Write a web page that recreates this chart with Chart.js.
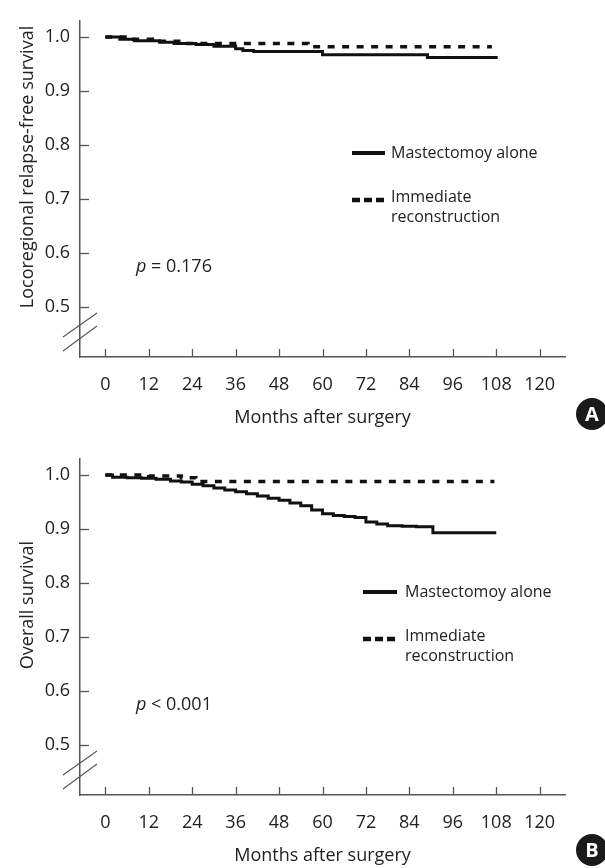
<!DOCTYPE html>
<html><head><meta charset="utf-8">
<script src="https://cdn.jsdelivr.net/npm/chart.js@4.4.1/dist/chart.umd.min.js"></script>
<style>
html,body{margin:0;padding:0;background:#fff;overflow:hidden;width:605px;height:868px;}
canvas{position:absolute;left:0;}
#c1{top:0}
#c2{top:438px}
</style></head><body>
<canvas id="c1" width="605" height="434"></canvas>
<canvas id="c2" width="605" height="434"></canvas>
<script>
// ---- data ----
const X_TICKS = [0, 12, 24, 36, 48, 60, 72, 84, 96, 108, 120];
const Y_TICKS = [0.5, 0.6, 0.7, 0.8, 0.9, 1.0];
const Y_TICK_LABELS = ['0.5', '0.6', '0.7', '0.8', '0.9', '1.0'];
const X_TITLE = 'Months after surgery';
const SERIES_NAMES = ['Mastectomoy alone', ['Immediate', 'reconstruction']];

// Panel A: locoregional relapse-free survival
const LRFS_MAST_T = [0, 4, 8, 15, 19, 25, 30, 36, 38, 41, 60, 89, 108.4];
const LRFS_MAST_S = [1.0, 0.996, 0.993, 0.990, 0.988, 0.986, 0.983, 0.978, 0.975, 0.973, 0.967, 0.962, 0.962];
const LRFS_IR_T = [0, 6, 13, 22, 56, 106.8];
const LRFS_IR_S = [1.0, 0.996, 0.992, 0.988, 0.982, 0.982];

// Panel B: overall survival
const OS_MAST_T = [0, 2, 6, 10, 14, 18, 21, 24, 27, 30, 33, 36, 39, 42, 45, 48, 51, 54, 57, 60, 63, 66, 69, 72, 75, 78, 82, 86, 90.5, 108];
const OS_MAST_S = [1.0, 0.996, 0.995, 0.994, 0.992, 0.989, 0.987, 0.983, 0.980, 0.976, 0.972, 0.969, 0.965, 0.961, 0.957, 0.953, 0.948, 0.943, 0.935, 0.928, 0.925, 0.923, 0.921, 0.913, 0.909, 0.906, 0.905, 0.904, 0.893, 0.893];
const OS_IR_T = [0, 12, 21, 25, 107.5];
const OS_IR_S = [1.0, 0.998, 0.995, 0.988, 0.988];

const FONT = "'Open Sans', 'Noto Sans', sans-serif";
const INK = '#222';
const AXIS = '#555';

function pts(t, s) { return t.map((v, i) => ({ x: v, y: s[i] })); }

const decor = {
  id: 'decor',
  afterDraw(chart, args, o) {
    const ctx = chart.ctx;
    const ca = chart.chartArea;
    const xs = chart.scales.x, ys = chart.scales.y;
    ctx.save();
    // inward tick marks
    ctx.strokeStyle = AXIS; ctx.lineWidth = 1.3;
    X_TICKS.forEach(v => {
      const px = Math.round(xs.getPixelForValue(v)) + 0.5;
      ctx.beginPath(); ctx.moveTo(px, ca.bottom); ctx.lineTo(px, ca.bottom - 8); ctx.stroke();
    });
    Y_TICKS.forEach(v => {
      const py = Math.round(ys.getPixelForValue(v)) + 0.5;
      ctx.beginPath(); ctx.moveTo(ca.left, py); ctx.lineTo(ca.left + 9, py); ctx.stroke();
    });
    // axis break marks
    ctx.lineWidth = 1.1;
    ctx.beginPath();
    ctx.moveTo(ca.left - 17, ca.bottom - 20); ctx.lineTo(ca.left + 17, ca.bottom - 44);
    ctx.moveTo(ca.left - 17, ca.bottom - 6); ctx.lineTo(ca.left + 17, ca.bottom - 31);
    ctx.stroke();
    // y axis title
    ctx.fillStyle = INK;
    ctx.font = '18px ' + FONT;
    ctx.textAlign = 'center'; ctx.textBaseline = 'middle';
    ctx.translate(o.yTitleX, o.yTitleY);
    ctx.rotate(-Math.PI / 2);
    ctx.fillText(o.yTitle, 0, 0);
    ctx.setTransform(1, 0, 0, 1, 0, 0);
    // legend
    const L = o.legend;
    ctx.strokeStyle = '#111';
    ctx.lineWidth = 4;
    ctx.setLineDash([]);
    ctx.beginPath(); ctx.moveTo(L.x0, L.y1); ctx.lineTo(L.x1, L.y1); ctx.stroke();
    ctx.lineWidth = 4.5;
    ctx.setLineDash([8, 4]);
    ctx.beginPath(); ctx.moveTo(L.x0, L.y2); ctx.lineTo(L.x1 + 2, L.y2); ctx.stroke();
    ctx.setLineDash([]);
    ctx.font = '16px ' + FONT;
    ctx.textAlign = 'left'; ctx.textBaseline = 'middle';
    ctx.fillText(SERIES_NAMES[0], L.tx, L.y1);
    ctx.fillText(SERIES_NAMES[1][0], L.tx, L.y2 - 3);
    ctx.fillText(SERIES_NAMES[1][1], L.tx, L.y2 + 17);
    // p value
    ctx.font = 'italic 18px ' + FONT;
    ctx.fillText(o.pText[0], o.pX, o.pY);
    const w = ctx.measureText(o.pText[0]).width;
    ctx.font = '18px ' + FONT;
    ctx.fillText(o.pText[1], o.pX + w, o.pY);
    // panel badge
    ctx.fillStyle = '#1a1a1a';
    ctx.beginPath(); ctx.arc(o.badgeX, o.badgeY, 16, 0, Math.PI * 2); ctx.fill();
    ctx.fillStyle = '#fff';
    ctx.font = 'bold 20px ' + FONT;
    ctx.textAlign = 'center'; ctx.textBaseline = 'middle';
    ctx.fillText(o.badge, o.badgeX, o.badgeY + 1);
    ctx.restore();
  }
};

function makeChart(id, mastT, mastS, irT, irS, opts) {
  return new Chart(document.getElementById(id), {
    type: 'line',
    data: {
      datasets: [
        { label: 'Mastectomoy alone', data: pts(mastT, mastS), stepped: true,
          borderColor: '#111', borderWidth: 3, pointRadius: 0, fill: false },
        { label: 'Immediate reconstruction', data: pts(irT, irS), stepped: true,
          borderColor: '#111', borderWidth: 3.5, borderDash: [7, 7.5], pointRadius: 0, fill: false }
      ]
    },
    options: {
      responsive: false, animation: false, devicePixelRatio: 1,
      layout: { padding: { top: 10, right: 40, left: 0, bottom: 0 } },
      plugins: { legend: { display: false }, tooltip: { enabled: false }, decor: opts },
      scales: {
        x: {
          type: 'linear', min: -7, max: 127,
          afterBuildTicks: s => { s.ticks = X_TICKS.map(v => ({ value: v })); },
          afterFit: s => { s.height = 77; },
          grid: { display: true, drawOnChartArea: false, drawTicks: false },
          border: { display: true, color: AXIS, width: 1.5 },
          ticks: { autoSkip: false, maxRotation: 0, padding: 17, color: INK,
            font: { family: FONT, size: 18 }, callback: (v, i) => String(X_TICKS[i]) },
          title: { display: true, text: X_TITLE, color: INK,
            font: { family: FONT, size: 18 }, padding: { top: 0, bottom: 5 } }
        },
        y: {
          min: 0.4065, max: 1.03,
          afterBuildTicks: s => { s.ticks = Y_TICKS.map(v => ({ value: v })); },
          afterFit: s => { s.width = 80; },
          grid: { display: true, drawOnChartArea: false, drawTicks: false },
          border: { display: true, color: AXIS, width: 1.5 },
          ticks: { padding: 10, color: INK, font: { family: FONT, size: 18 },
            callback: (v, i) => Y_TICK_LABELS[i] }
        }
      }
    },
    plugins: [decor]
  });
}

makeChart('c1', LRFS_MAST_T, LRFS_MAST_S, LRFS_IR_T, LRFS_IR_S, {
  yTitle: 'Locoregional relapse-free survival', yTitleX: 28, yTitleY: 167,
  legend: { x0: 352, x1: 385, tx: 391, y1: 153, y2: 200 },
  pText: ['p', ' = 0.176'], pX: 136, pY: 267,
  badge: 'A', badgeX: 592, badgeY: 414
});
makeChart('c2', OS_MAST_T, OS_MAST_S, OS_IR_T, OS_IR_S, {
  yTitle: 'Overall survival', yTitleX: 28, yTitleY: 167,
  legend: { x0: 363, x1: 397, tx: 405, y1: 154, y2: 201 },
  pText: ['p', ' < 0.001'], pX: 136, pY: 267,
  badge: 'B', badgeX: 592, badgeY: 412
});
</script>
</body></html>
